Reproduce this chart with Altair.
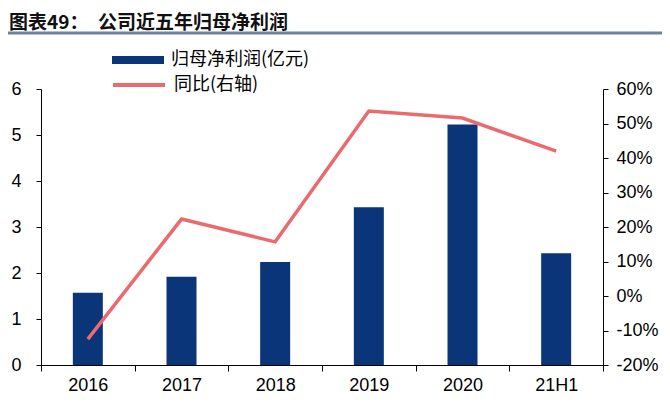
import altair as alt
import pandas as pd

years = ["2016", "2017", "2018", "2019", "2020", "21H1"]
profit = [1.57, 1.92, 2.24, 3.43, 5.23, 2.43]
yoy = [-0.125, 0.223, 0.157, 0.536, 0.516, 0.42]
bar_name = "归母净利润(亿元)"
line_name = "同比(右轴)"
title_text = "图表49：\u3000公司近五年归母净利润"

df = pd.DataFrame({"year": years, "profit": profit, "yoy": yoy,
                   "s1": [bar_name] * len(years), "s2": [line_name] * len(years)})

NUM_FONT = "Liberation Sans"
CJK_FONT = "Noto Sans CJK SC"

x = alt.X("year:N", sort=years, title=None,
          scale=alt.Scale(paddingInner=0, paddingOuter=0),
          axis=alt.Axis(labelAngle=0, tickBand="extent", domainColor="black",
                        tickColor="black", tickSize=6, labelFontSize=18,
                        labelPadding=5, labelColor="black", labelFont=NUM_FONT))

bars = alt.Chart(df).mark_bar(size=30).encode(
    x=x,
    y=alt.Y("profit:Q", title=None,
            scale=alt.Scale(domain=[0, 6], nice=False),
            axis=alt.Axis(values=[0, 1, 2, 3, 4, 5, 6], domainColor="black",
                          tickColor="black", tickSize=5, labelFontSize=18,
                          labelPadding=15, labelColor="black", labelFont=NUM_FONT)),
    fill=alt.Fill("s1:N", scale=alt.Scale(range=["#0A3579"]),
                  legend=alt.Legend(orient="none", legendX=71, legendY=-55, title=None,
                                    padding=0, labelOffset=7,
                                    symbolType="M-1,-0.15L1,-0.15L1,0.15L-1,0.15Z",
                                    symbolSize=2704, symbolStrokeWidth=0,
                                    labelFontSize=18, labelFont=CJK_FONT,
                                    labelColor="black")),
)

line = alt.Chart(df).mark_line(strokeWidth=3.5).encode(
    x=x,
    y=alt.Y("yoy:Q", title=None,
            scale=alt.Scale(domain=[-0.2, 0.6], nice=False),
            axis=alt.Axis(orient="right",
                          values=[-0.2, -0.1, 0, 0.1, 0.2, 0.3, 0.4, 0.5, 0.6],
                          labelExpr="round(datum.value*100) + '%'",
                          domainColor="black", tickColor="black", tickSize=5,
                          labelFontSize=18, labelPadding=8, labelColor="black",
                          labelFont=NUM_FONT)),
    stroke=alt.Stroke("s2:N", scale=alt.Scale(range=["#E96B6E"]),
                      legend=alt.Legend(orient="none", legendX=70, legendY=-32, title=None,
                                        padding=0, labelOffset=7, symbolType="stroke",
                                        symbolSize=2704, symbolStrokeWidth=4,
                                        labelFontSize=18, labelFont=CJK_FONT,
                                        labelColor="black")),
)

deco = alt.Chart(pd.DataFrame({"t": [title_text]}))
rule = deco.mark_rule(color="#6F8397", strokeWidth=3).encode(
    x=alt.value(-33), x2=alt.value(625), y=alt.value(-56))
title = deco.mark_text(align="left", baseline="middle", fontSize=19, font=CJK_FONT,
                       fontWeight="bold", color="#111111").encode(
    x=alt.value(-32), y=alt.value(-66), text="t:N")

chart = alt.layer(bars, line, rule, title).resolve_scale(y="independent").properties(
    width=562, height=276,
    autosize=alt.AutoSizeParams(type="none"),
    padding={"left": 33, "top": 81, "right": 59, "bottom": 30},
).configure_view(stroke=None).configure_axis(grid=False)

chart.save("out.html", embed_options={"renderer": "svg", "actions": False})
